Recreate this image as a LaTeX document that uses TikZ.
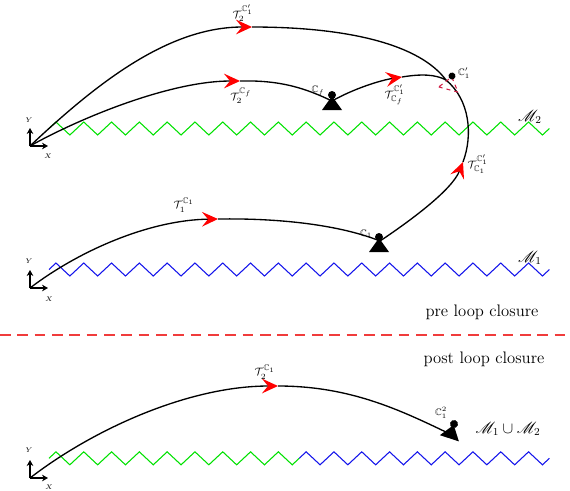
\documentclass[tikz,border=0pt]{standalone}
\usepackage{amssymb}
\usepackage{mathrsfs}
\usetikzlibrary{arrows.meta}

\tikzset{
  traj/.style={line width=1pt},
  trajarr/.style={line width=1pt,-{Stealth[red,length=12pt,width=11pt,inset=4.5pt]}},
  axis/.style={line width=1.1pt,-{Stealth[length=4.5pt,width=5pt]}},
  mapg/.style={color={rgb, 255:red, 0; green, 225; blue, 0},line width=0.8pt},
  mapb/.style={color={rgb, 255:red, 20; green, 20; blue, 235},line width=0.8pt},
  sepline/.style={color={rgb, 255:red, 240; green, 60; blue, 60},line width=0.8pt,dash pattern=on 8pt off 5pt},
  % pics are drawn with y pointing up
  cam/.pic={
    \fill (-10,-15) -- (10,-15) -- (0,-1) -- cycle ;
    \fill (0,0) circle (4) ;
  },
  camdash/.pic={
    \draw [color={rgb, 255:red, 210; green, 30; blue, 70},line width=0.8pt,dash pattern=on 3pt off 3pt] (-10,-14) -- (10,-14) -- (0,-1) -- cycle ;
    \fill (0,0) circle (3.5) ;
  }
}

\begin{document}
\begin{tikzpicture}[x=0.75pt,y=0.75pt,yscale=-1,xscale=1]
\useasboundingbox (0,0) rectangle (570,490);

% Coordinates
\coordinate (o2) at (30,146);
\coordinate (o1) at (30,288);
\coordinate (o3) at (30,478);
\coordinate (cf) at (332,101);
\coordinate (c1) at (380,241);
\coordinate (c1p) at (446,80);
\coordinate (c12) at (448,433);
\coordinate (tA) at (252,27);
\coordinate (tB) at (240,81);
\coordinate (tF) at (402,77);
\coordinate (tC) at (463,162);
\coordinate (tD) at (218,219);
\coordinate (tE) at (278,386);

% Zigzag Lines
\draw [mapg] (49,128.5) -- ++(6.95,-6.5) \foreach \k in {1,...,17} { -- ++(13.9,13) -- ++(13.9,-13) } -- ++(13.9,13) -- ++(6.95,-6.5) ;
\draw [mapb] (49,269.5) -- ++(6.95,-6.5) \foreach \k in {1,...,17} { -- ++(13.9,13) -- ++(13.9,-13) } -- ++(13.9,13) -- ++(6.95,-6.5) ;
\draw [mapg] (49,458.3) -- ++(6.95,-6.5) \foreach \k in {1,...,8} { -- ++(13.9,13) -- ++(13.9,-13) } -- ++(13.9,13) -- ++(6.95,-6.5) ;
\draw [mapb] (299.2,458.3) -- ++(6.95,-6.5) \foreach \k in {1,...,8} { -- ++(13.9,13) -- ++(13.9,-13) } -- ++(13.9,13) -- ++(6.95,-6.5) ;

% Axes
\draw [axis] (o2) -- ++(0,-18) ;
\draw [axis] (o2) -- ++(18,0) ;
\draw [axis] (o1) -- ++(0,-18) ;
\draw [axis] (o1) -- ++(18,0) ;
\draw [axis] (o3) -- ++(0,-18) ;
\draw [axis] (o3) -- ++(18,0) ;

% Curve Lines
\draw [trajarr] (o2) .. controls (100,80) and (170,27) .. (tA) ;
\draw [traj] (tA) .. controls (350,27) and (420,45) .. (c1p) ;
\draw [trajarr] (o2) .. controls (80,118) and (170,81) .. (tB) ;
\draw [traj] (tB) .. controls (280,80) and (305,88) .. (cf) ;
\draw [trajarr] (cf) .. controls (355,88) and (382,80) .. (tF) ;
\draw [traj] (tF) .. controls (420,74) and (435,74) .. (c1p) ;
\draw [trajarr] (o1) .. controls (80,250) and (150,220) .. (tD) ;
\draw [traj] (tD) .. controls (280,218) and (340,225) .. (c1) ;
\draw [trajarr] (c1) .. controls (410,221) and (452,190) .. (tC) ;
\draw [traj] (tC) .. controls (473,135) and (470,100) .. (c1p) ;
\draw [trajarr] (o3) .. controls (95,428) and (190,386) .. (tE) ;
\draw [traj] (tE) .. controls (350,386) and (400,410) .. (c12) ;

% Cameras
\pic (camf) at (332,95) {cam};
\pic (camone) at (379,237) {cam};
\pic (camtwo) [rotate=-18] at (454,424) {cam};
\pic (campr) [rotate=-15] at (452,76) {camdash};

% Separator
\draw [sepline] (0,335) -- (570,335) ;

% Text Node
\draw (29,120) node (ytwo) [font=\tiny] {$Y$};
\draw (48,156) node (xtwo) [font=\tiny] {$X$};
\draw (29,261) node (yone) [font=\tiny] {$Y$};
\draw (49,299) node (xone) [font=\tiny] {$X$};
\draw (29,450) node (ythree) [font=\tiny] {$Y$};
\draw (49,487) node (xthree) [font=\tiny] {$X$};
% Text Node
\draw (243,13) node (lbltA) [font=\footnotesize] {$\mathcal{T}_2^{\mathbb{C}_1'}$};
\draw (241,96) node (lbltB) [font=\footnotesize] {$\mathcal{T}_2^{\mathbb{C}_f}$};
\draw (318,91) node (lblcf) [font=\scriptsize] {$\mathbb{C}_f$};
\draw (395,95) node (lbltF) [font=\footnotesize] {$\mathcal{T}_{\mathbb{C}_f}^{\mathbb{C}_1'}$};
\draw (464,73) node (lblc1p) [font=\scriptsize] {$\mathbb{C}_1'$};
\draw (478,164) node (lbltC) [font=\footnotesize] {$\mathcal{T}_{\mathbb{C}_1}^{\mathbb{C}_1'}$};
\draw (530,117) node (lblmtwo) [font=\large] {$\mathscr{M}_2$};
\draw (184,205) node (lbltD) [font=\footnotesize] {$\mathcal{T}_1^{\mathbb{C}_1}$};
\draw (366,234) node (lblcone) [font=\scriptsize] {$\mathbb{C}_1$};
\draw (530,258) node (lblmone) [font=\large] {$\mathscr{M}_1$};
\draw (482,312) node (pre) [font=\fontsize{12.5}{15}\selectfont] {pre loop closure};
\draw (484,359) node (post) [font=\fontsize{12.5}{15}\selectfont] {post loop closure};
\draw (265,372) node (lbltE) [font=\footnotesize] {$\mathcal{T}_2^{\mathbb{C}_1}$};
\draw (441,413) node (lblctwo) [font=\scriptsize] {$\mathbb{C}_1^2$};
\draw (508,429) node (lblunion) [font=\large] {$\mathscr{M}_1 \cup \mathscr{M}_2$};
\end{tikzpicture}
\end{document}
